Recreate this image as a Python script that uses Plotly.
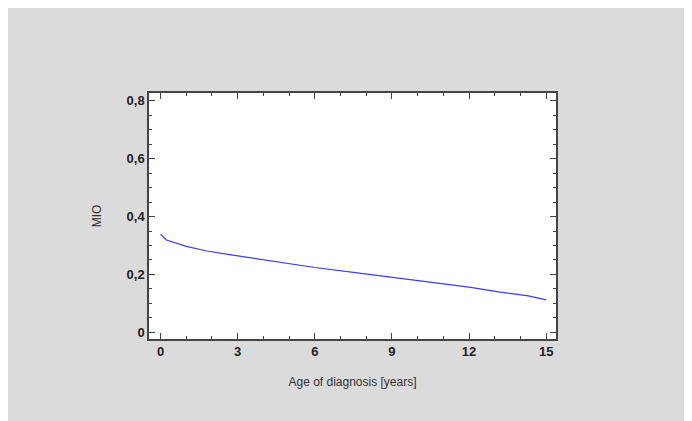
import plotly.graph_objects as go

age = [0.0, 0.23, 1.0, 1.8, 3.0, 4.8, 6.0, 7.8, 9.0, 10.75, 12.0, 13.2, 14.3, 15.0]
mio = [0.339, 0.319, 0.297, 0.281, 0.264, 0.241, 0.224, 0.204, 0.190, 0.170, 0.156, 0.139, 0.126, 0.112]

x_ticks = [0, 3, 6, 9, 12, 15]
y_ticks = [0, 0.2, 0.4, 0.6, 0.8]
y_labels = ["0", "0,2", "0,4", "0,6", "0,8"]

fig = go.Figure()
fig.add_trace(go.Scatter(x=age, y=mio, mode="lines",
                         line=dict(color="#3b3bff", width=1.2), showlegend=False))

W, H = 700, 421
L, R, T, B = 141, 152, 85, 90

axis_common = dict(
    showline=True, linecolor="#444444", linewidth=1.5, mirror="allticks",
    ticks="inside", ticklen=6, tickwidth=1.2, tickcolor="#444444",
    showgrid=False, zeroline=False,
    tickfont=dict(family="Liberation Sans, Arial", size=13, color="#222222", weight="bold"),
)

fig.update_layout(
    width=W, height=H,
    margin=dict(l=L, r=R, t=T, b=B),
    paper_bgcolor="#dbdbdb", plot_bgcolor="white",
    separators=",.",
    xaxis=dict(range=[-0.45, 15.38], tickvals=x_ticks, ticktext=[str(v) for v in x_ticks],
               minor=dict(dtick=1, tick0=0, ticks="inside", ticklen=3, tickcolor="#444444"),
               title=dict(text="Age of diagnosis [years]", standoff=19,
                          font=dict(family="Liberation Sans, Arial", size=12, color="#333333")),
               **axis_common),
    yaxis=dict(range=[-0.023, 0.827], tickvals=y_ticks, ticktext=y_labels,
               minor=dict(dtick=0.05, tick0=0, ticks="inside", ticklen=3, tickcolor="#444444"),
               title=dict(text="MIO", standoff=22,
                          font=dict(family="Liberation Sans, Arial", size=12, color="#333333")),
               **axis_common),
)

fig.write_html("out.html")
